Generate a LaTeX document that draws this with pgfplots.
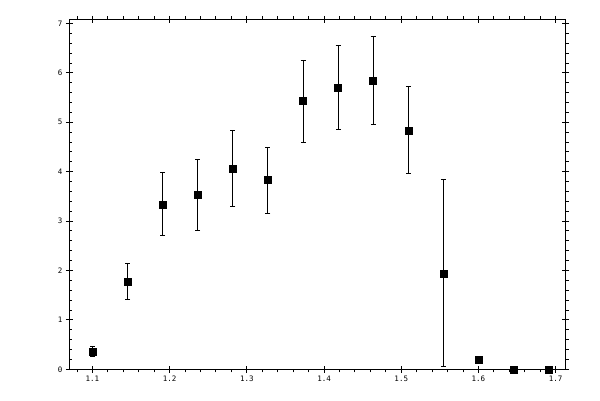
\documentclass[border=0pt]{standalone}
\usepackage{pgfplots}
\pgfplotsset{compat=1.18}
\usepackage{pgfplotstable}
\usepackage{fontspec}
\setmainfont{DejaVu Sans Mono}
\pgfplotstableread{
x y ep em
1.10000 0.36 0.11 0.10
1.14545 1.77 0.38 0.35
1.19091 3.34 0.65 0.63
1.23636 3.54 0.71 0.73
1.28182 4.07 0.77 0.77
1.32727 3.83 0.66 0.67
1.37273 5.43 0.83 0.83
1.41818 5.71 0.85 0.85
1.46364 5.85 0.89 0.89
1.50909 4.84 0.89 0.87
1.55455 1.94 1.91 1.88
1.60000 0.19 0.04 0.04
1.64545 0.00 0.00 0.00
1.69091 0.00 0.00 0.00
}\datatable
\begin{document}
\begin{tikzpicture}
\path[use as bounding box] (-69.3pt,-30.7pt) rectangle (530.7pt,369.3pt);
\pgfplotsset{
  common/.style={at={(0,0)}, anchor=south west, width=496.4pt, height=350pt,
    scale only axis, xmin=1.07, xmax=1.713, ymin=0, ymax=7.085, clip=false,
    tick style={line width=1pt, black},
    /pgf/number format/assume math mode=true,
    ticklabel style={font=\fontsize{7.5}{8}\selectfont}},
}
% minor ticks outward (bottom, top, right), drawn as unlabeled ticks
\begin{axis}[common, axis line style={draw=none}, tick align=outside,
  major tick length=3pt,
  xtick={1.08,1.12,1.14,1.16,1.18,1.22,1.24,1.26,1.28,1.32,1.34,1.36,1.38,1.42,1.44,1.46,1.48,1.52,1.54,1.56,1.58,1.62,1.64,1.66,1.68},
  ytick={0.2,0.4,0.6,0.8,1.2,1.4,1.6,1.8,2.2,2.4,2.6,2.8,3.2,3.4,3.6,3.8,4.2,4.4,4.6,4.8,5.2,5.4,5.6,5.8,6.2,6.4,6.6,6.8,7.0},
  xticklabels={}, yticklabels={},
  ytick pos=right, xtick pos=both]
\end{axis}
% minor ticks inward on the left
\begin{axis}[common, axis line style={draw=none}, tick align=inside,
  major tick length=3pt, xtick=\empty,
  ytick={0.2,0.4,0.6,0.8,1.2,1.4,1.6,1.8,2.2,2.4,2.6,2.8,3.2,3.4,3.6,3.8,4.2,4.4,4.6,4.8,5.2,5.4,5.6,5.8,6.2,6.4,6.6,6.8,7.0},
  yticklabels={}, ytick pos=left]
\end{axis}
\begin{axis}[common, axis line style={line width=1pt},
  tick align=center, major tick length=7pt,
  xtick={1.1,1.2,1.3,1.4,1.5,1.6,1.7},
  xticklabels={1.1,1.2,1.3,1.4,1.5,1.6,1.7},
  ytick={0,1,2,3,4,5,6,7},
  yticklabels={0,1,2,3,4,5,6,7},
  xtick pos=both, ytick pos=both,
  xticklabel pos=lower, yticklabel pos=left]
\addplot[black, only marks, mark=square*, mark size=3.5pt,
  error bars/.cd, y dir=both, y explicit,
  error bar style={line width=1pt},
  error mark options={rotate=90, mark size=2.5pt, line width=1pt}]
  table[x=x, y=y, y error plus=ep, y error minus=em] {\datatable};
\end{axis}
\end{tikzpicture}
\end{document}
